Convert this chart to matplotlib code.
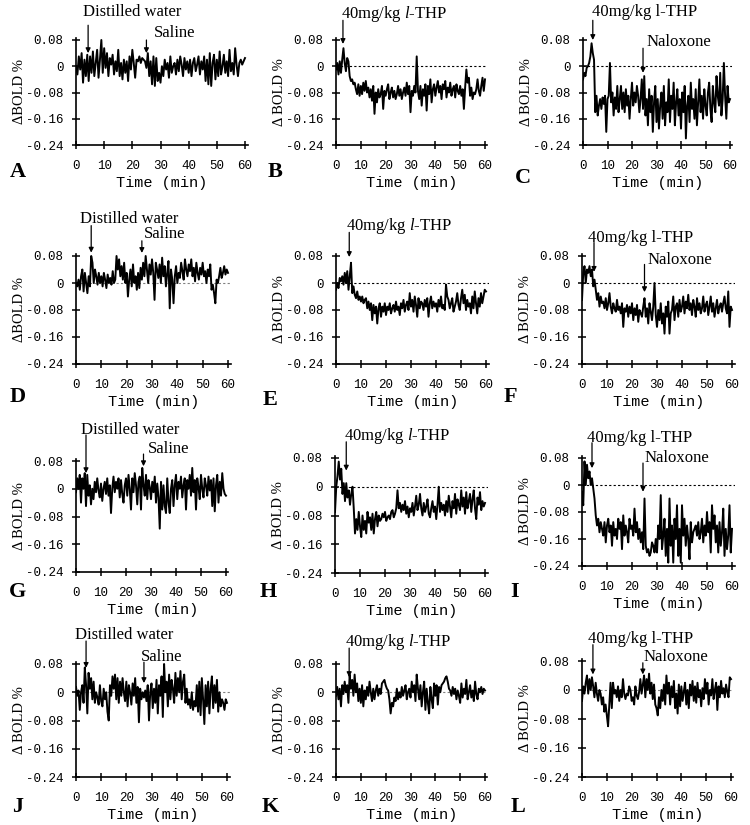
import matplotlib
matplotlib.use('Agg')
import matplotlib.pyplot as plt
import numpy as np

plt.rcParams['mathtext.fontset'] = 'custom'
plt.rcParams['mathtext.it'] = 'Liberation Serif:italic'
plt.rcParams['mathtext.rm'] = 'Liberation Serif'

# ΔBOLD values in units of 0.001 %, one value every 0.5 min (0 .. 60 min)
bold_A = [0, -25, 30, -10, 40, -50, 20, -30, 35, -45,
          30, -20, 45, -30, 10, 50, -35, 20, 80, -20,
          55, -5, 40, -30, 25, 5, 35, -25, 15, -15,
          50, -30, 10, -40, 20, -20, 15, -45, 30, -10,
          50, 10, -35, 20, 15, 30, 10, 25, 20, 15,
          -5, 40, -30, 15, -55, 30, -60, 25, -45, -20,
          -50, 0, -30, 20, -10, 10, -35, 30, -20, 0,
          10, -25, 20, -15, 30, 5, -30, 25, -10, 15,
          -20, 20, -30, 10, 25, -15, 5, 30, -25, 15,
          -10, 30, -45, 20, -55, 40, -60, 10, 35, -40,
          20, -30, 45, -25, 0, 35, -20, 15, -30, 50,
          -15, 10, -25, 55, 5, -30, 10, 20, 5, 15, 25]

bold_B = [-10, 10, -25, 15, -20, 20, 55, 10, -15, 25,
          15, -30, -45, -40, -55, -50, -70, -85, -55, -90,
          -60, -85, -50, -75, -45, -80, -65, -95, -70, -105,
          -60, -145, -80, -110, -70, -95, -85, -60, -130, -75,
          -90, -70, -55, -100, -80, -65, -95, -75, -100, -85,
          -60, -90, -70, -100, -80, -65, -90, -50, -85, -60,
          -140, -75, -90, -60, -80, 30, -75, -100, -60, -120,
          -70, -90, -55, -135, -60, -85, -40, -110, -70, -55,
          -90, -65, -45, -80, -60, -100, -55, -70, -45, -95,
          -65, -80, -50, -90, -70, -60, -95, -55, -75, -85,
          -60, -90, -70, -130, -65, -10, -50, -35, -90, -65,
          -100, -80, -85, -70, -40, -75, -90, -60, -35, -75, -40]

bold_C = [-40, -20, -30, -5, 0, 10, 30, 70, 40, 20,
          -140, -90, -150, -120, -100, -130, -95, -115, -90, -200,
          -100, -90, 10, -110, -80, -150, -95, -130, -60, -140,
          -100, -60, -130, -80, -140, -70, -120, -90, -160, -100,
          -50, -120, -80, -110, -60, -90, -140, -100, -40, -130,
          -30, -150, -100, -180, -70, -140, -90, -200, -110, -60,
          -170, -100, -190, -120, -80, -160, -60, -180, -110, -140,
          -40, -170, -90, -130, -50, -180, -110, -70, -150, -100,
          -190, -80, -140, -60, -220, -120, -90, -170, -50, -130,
          -100, -160, -70, -180, -110, -40, -140, -90, -160, -70,
          -120, -150, -80, -50, -130, -170, -60, -110, -140, -30,
          -90, -120, -20, -150, -100, 10, -90, -160, -60, -110, -100]

bold_D = [0, -10, 10, -20, 20, 40, -25, 30, 0, -30,
          20, -10, 80, 60, 0, 40, 20, -5, 30, 0,
          20, -10, 30, 10, -15, 25, 0, 15, -5, 35,
          0, 10, 80, 40, 70, 20, 50, 10, 60, 0,
          30, -40, 10, 40, -10, 55, 0, 20, -20, 30,
          -15, 45, 10, 60, 20, 80, 40, 0, 55, 25,
          70, 30, -50, 60, 40, 15, 55, 0, 75, 20,
          50, -10, 30, 65, -75, 40, 10, -60, 20, 50,
          0, 30, 15, 60, 35, 10, 70, 40, 20, 55,
          35, 70, 20, 45, 5, 60, 30, 10, 45, 25,
          60, 20, 35, 0, 40, 20, 55, -20, -5, -30,
          -60, 10, 0, 20, 45, 15, 30, 50, 25, 40, 30]

bold_E = [-20, 0, -15, 15, 5, 20, -5, 30, 0, 35,
          -20, 20, 60, -30, -10, -35, -45, -25, -50, -40,
          -55, -40, -60, -50, -45, -75, -55, -80, -60, -110,
          -65, -90, -70, -120, -75, -60, -100, -70, -85, -60,
          -95, -70, -80, -60, -90, -75, -65, -85, -55, -80,
          -70, -95, -60, -75, -50, -85, -65, -55, -80, -30,
          -70, -50, -85, -40, -65, -100, -45, -75, -55, -60,
          -80, -50, -70, -45, -100, -60, -40, -75, -55, -70,
          -60, -85, -50, -70, -40, -75, -65, -80, -5, -40,
          -50, -75, -60, -45, -85, -70, -55, -30, -65, -80,
          -45, -20, -60, -35, -80, -50, -70, -60, -90, -40,
          -75, -25, -60, -90, -45, -70, -30, -60, -40, -20, -25]

bold_F = [-50, 30, 50, 0, 40, 30, 50, 20, 40, -10,
          10, -20, -50, -30, -70, -40, -60, -55, -75, -45,
          -80, -60, -30, -70, -90, -60, -75, -85, -50, -80,
          -70, -90, -60, -130, -75, -85, -65, -100, -70, -90,
          -60, -110, -75, -95, -65, -115, -80, -90, -100, -70,
          -45, -100, -75, -120, -60, -85, -110, -70, 0, -95,
          -130, -80, -110, -60, -120, -90, -150, -70, -100, -55,
          -150, -90, -80, -40, -110, -70, -60, -100, -50, -85,
          -70, -40, -90, -55, -75, -35, -80, -60, -95, -50,
          -70, -100, -45, -80, -60, -90, -75, -40, -85, -65,
          -55, -95, -70, -40, -85, -60, -100, -75, -50, -90,
          -70, -60, -85, -60, -40, -75, -90, -25, -130, -70, -80]

bold_G = [-10, 30, 0, 40, -40, 30, 0, 45, -50, 40,
          -20, 10, -45, 0, -30, 20, -10, 30, -5, -25,
          15, -35, 0, 20, -15, 30, -20, 10, -70, 0,
          35, -10, 20, 0, 30, -25, 25, -15, -40, 10,
          30, -20, 40, 0, -60, 30, -10, 45, 10, -45,
          20, 35, -60, 60, 10, -20, 40, -30, 25, 5,
          -30, 20, -10, 35, -40, 15, -25, -115, 20, -60,
          10, -50, -70, 30, -40, -70, 0, 25, -50, 10,
          40, -30, 20, 0, 35, -25, 10, 30, -60, 25,
          0, 40, -20, 60, -10, 25, -60, 30, 5, -30,
          40, 0, -25, 30, 10, -20, 35, -5, 25, -50,
          30, -65, 10, 40, -40, 20, -20, 45, 0, -15, -20]

bold_H = [-70, 0, 30, 70, 20, 50, -20, 10, -40, 10,
          -30, -10, -50, -20, 0, -60, -130, -90, -120, -70,
          -110, -140, -80, -120, -95, -130, -70, -100, -85, -120,
          -75, -130, -90, -70, -110, -80, -95, -90, -75, -85,
          -70, -95, -85, -80, -90, -70, -65, -85, -75, -60,
          -10, -60, -45, -70, -50, -65, -40, -75, -55, -85,
          -60, -70, -45, -80, -55, -25, -65, -50, -20, -60,
          -80, -45, -70, -55, -35, -75, -85, -60, -40, -70,
          -55, -90, -50, 0, -70, -45, -65, -50, -80, -40,
          -70, -25, -55, -85, -40, -60, -20, -75, -35, -50,
          -65, -10, -55, -30, -75, -15, -60, -40, -20, -70,
          -35, -10, -60, -90, -30, -50, -15, -65, -40, -55, -45]

bold_I = [-20, -60, 70, 0, 60, 20, 40, 0, 20, -10,
          -40, -90, -120, -100, -140, -110, -130, -150, -110, -170,
          -120, -100, -140, -120, -180, -110, -150, -130, -160, -100,
          -130, -110, -190, -90, -150, -120, -140, -170, -100, -130,
          -120, -150, -70, -140, -110, -160, -130, -170, -140, -190,
          -40, -180, -200, -190, -210, -200, -170, -180, -200, -160,
          -200, -120, -160, -30, -190, -150, -100, -210, -130, -230,
          -40, -180, -120, -230, -100, -160, -60, -210, -130, -230,
          -60, -150, -100, -180, -120, -160, -220, -110, -170, -140,
          -130, -120, -150, -110, -160, -140, -100, -170, -120, -150,
          -80, -140, -110, -200, -60, -130, -90, -170, -120, -200,
          -110, -180, -140, -70, -210, -130, -190, -150, -60, -200, -130]

bold_J = [15, -10, 5, -50, 0, 20, -30, 70, 20, -60,
          55, 10, 40, -20, 30, -30, 0, -15, -35, 20,
          -25, -40, 10, -20, 0, -55, -80, 20, -10, 45,
          10, 50, -20, 40, -30, 30, -10, 40, 0, -25,
          30, -40, 20, 0, -35, 25, -10, 40, -30, 15,
          -85, 10, -20, 0, -15, 5, -25, 20, -80, 0,
          25, -45, 10, -30, 35, -60, 20, -10, 45, -70,
          80, 0, 30, -40, 50, -20, 35, 10, -30, 55,
          -10, 40, 0, 60, -20, 30, 50, -30, 10, -35,
          -20, -45, 0, -50, -25, -40, 20, -55, 30, -65,
          40, -20, -90, 20, -40, 30, -60, 10, 45, -45,
          20, -30, 35, -55, 0, -40, -20, -30, -50, -20, -30]

bold_K = [-10, 15, -20, 10, -40, 20, -5, 30, 0, 20,
          -30, 50, 10, 35, -10, 50, 0, 25, -25, 10,
          -30, 20, -40, 5, -20, 15, -10, 30, 0, -25,
          10, -20, 5, 20, -10, 10, -5, 25, 30, 35,
          20, 10, 5, -20, -60, -30, -40, -15, -25, 10,
          -20, 0, -15, 15, -10, 5, 20, -20, 0, 10,
          -15, 30, 0, 20, -25, 50, 10, -20, 20, -40,
          0, 30, -50, 10, -30, -60, 15, -20, -45, 25,
          -10, 20, -35, 15, 0, 20, 25, 30, 40, 45,
          30, 10, 5, -10, 15, -5, 10, -20, 5, -10,
          -30, 25, -15, 10, -5, 35, -20, 0, 20, -15,
          5, -25, 30, -5, -20, 10, 0, 15, -5, 10, 5]

bold_L = [-30, 10, -10, 20, 40, -10, 30, 0, 35, 10,
          -20, 20, -10, -30, 0, -10, -40, -20, -60, -40,
          -70, -100, -40, 20, -50, 20, -10, 0, -20, 10,
          -30, 0, -20, 30, -10, -25, -10, -15, 10, 0,
          -30, -20, -40, 10, -15, -25, -5, 30, -10, 15,
          40, -20, 30, 0, 45, -10, 20, -25, 15, -40,
          -50, -70, -20, -50, 0, -30, 15, -40, 40, -10,
          20, -40, 10, -20, 25, -50, -10, -65, 15, -45,
          10, -30, -5, 20, -40, 0, -50, 15, -15, 25,
          -30, 10, -35, 20, -20, 0, -45, 5, -25, 30,
          -10, 20, -40, 0, -15, 30, -25, 0, 20, -55,
          10, -20, 25, -10, 5, -20, 15, -5, -20, 35, 30]

yticks = [0.08, 0, -0.08, -0.16, -0.24]
ytick_labels = ['0.08', '0', '-0.08', '-0.16', '-0.24']
xticks = [0, 10, 20, 30, 40, 50, 60]

THP_IT = r'40mg/kg $\mathit{l}$-THP'
THP_UP = '40mg/kg l-THP'

# letter, data, ylabel, (left px, x=60 px, y=0.08 px, y=-0.24 px), letter pos px, zero line colour
panels = [
    ('A', bold_A, 'ΔBOLD %', (76, 245, 40, 145), (18, 172), None),
    ('B', bold_B, 'Δ BOLD %', (336, 485, 40, 145), (275, 172), 'k'),
    ('C', bold_C, 'Δ BOLD %', (583, 730, 40, 145), (523, 178), 'k'),
    ('D', bold_D, 'ΔBOLD %', (76, 228, 256, 364), (18, 397), '0.5'),
    ('E', bold_E, 'Δ BOLD %', (336, 486, 256, 364), (270, 400), 'k'),
    ('F', bold_F, 'Δ BOLD %', (582, 732, 256, 364), (510, 397), 'k'),
    ('G', bold_G, 'Δ BOLD %', (76, 226, 461, 572), (18, 592), None),
    ('H', bold_H, 'Δ BOLD %', (335, 485, 458, 573), (268, 592), 'k'),
    ('I', bold_I, 'Δ BOLD %', (582, 732, 458, 566), (515, 592), 'k'),
    ('J', bold_J, 'Δ BOLD %', (76, 227, 664, 777), (18, 807), '0.5'),
    ('K', bold_K, 'Δ BOLD %', (336, 485, 664, 777), (270, 807), '0.5'),
    ('L', bold_L, 'Δ BOLD %', (582, 731, 661, 777), (518, 807), '0.5'),
]

# label, text x, text y, arrow x, arrow tail y, arrow tip y (data coords)
notes = {
    'A': [('Distilled water', 20, 0.165, 4.3, 0.125, 0.04), ('Saline', 35, 0.10, 25, 0.08, 0.04)],
    'B': [(THP_IT, 23.5, 0.158, 2.8, 0.14, 0.068)],
    'C': [(THP_UP, 25, 0.164, 4, 0.14, 0.08), ('Naloxone', 39, 0.074, 24.5, 0.055, -0.02)],
    'D': [('Distilled water', 21, 0.19, 6, 0.17, 0.09), ('Saline', 35, 0.145, 26, 0.125, 0.089)],
    'E': [(THP_IT, 25.3, 0.17, 5.3, 0.15, 0.077)],
    'F': [(THP_UP, 23.6, 0.133, 4.8, 0.12, 0.033), ('Naloxone', 39, 0.068, 25, 0.055, -0.027)],
    'G': [('Distilled water', 21.5, 0.17, 4, 0.155, 0.045), ('Saline', 37, 0.115, 27, 0.1, 0.065)],
    'H': [(THP_IT, 25, 0.14, 4.5, 0.125, 0.045)],
    'I': [(THP_UP, 23, 0.14, 4, 0.125, 0.05), ('Naloxone', 38, 0.08, 24.4, 0.065, -0.02)],
    'J': [('Distilled water', 19, 0.162, 4, 0.145, 0.069), ('Saline', 34, 0.10, 27, 0.085, 0.026)],
    'K': [(THP_IT, 25, 0.142, 5.3, 0.125, 0.043)],
    'L': [(THP_UP, 23.5, 0.142, 4.4, 0.125, 0.043), ('Naloxone', 38, 0.09, 24.5, 0.075, 0.043)],
}

W, H = 750, 825
YTOP = 0.085
XMAX = 61

fig = plt.figure(figsize=(W / 100, H / 100), dpi=100)

for letter, vals, ylab, (x0, x60, y08, ybot), (lx, ly), zc in panels:
    px_per_min = (x60 - x0) / 60
    px_per_unit = (ybot - y08) / 0.32
    width = px_per_min * XMAX
    top = y08 - (YTOP - 0.08) * px_per_unit
    ax = fig.add_axes([x0 / W, 1 - ybot / H, width / W, (ybot - top) / H])

    v = np.array(vals) / 1000.0
    t = np.linspace(0, 60, len(v))
    if zc is not None:
        ax.axhline(0, color=zc, lw=0.8, ls=(0, (2, 2)), zorder=1)
    ax.plot(t, v, color='k', lw=1.4, zorder=2)

    ax.set_xlim(0, XMAX)
    ax.set_ylim(-0.24, YTOP)
    ax.spines['top'].set_visible(False)
    ax.spines['right'].set_visible(False)
    for s in ('left', 'bottom'):
        ax.spines[s].set_linewidth(1.2)
    ax.set_xticks(xticks)
    ax.set_xticklabels([str(x) for x in xticks], fontfamily='Liberation Mono', fontsize=9)
    ax.set_yticks(yticks)
    ax.set_yticklabels(ytick_labels, fontfamily='Liberation Mono', fontsize=9)
    ax.tick_params(direction='inout', length=6, width=1.1)
    ax.tick_params(axis='x', pad=8)
    ax.tick_params(axis='y', pad=6)
    ax.set_xlabel('Time (min)', fontfamily='Liberation Mono', fontsize=11, labelpad=3)
    ax.set_ylabel(ylab, fontfamily='Liberation Serif', fontsize=10.5, labelpad=0)

    for label, tx, ty, axx, y0, y1 in notes[letter]:
        ax.text(tx, ty, label, ha='center', va='center', fontfamily='Liberation Serif',
                fontsize=12, clip_on=False)
        ax.annotate('', xy=(axx, y1), xytext=(axx, y0), annotation_clip=False,
                    arrowprops=dict(arrowstyle='-|>', color='k', lw=0.9,
                                    mutation_scale=7, shrinkA=0, shrinkB=0))

    fig.text(lx / W, 1 - ly / H, letter, ha='center', va='center',
             fontfamily='Liberation Serif', fontweight='bold', fontsize=16)

fig.savefig('out.png', dpi=100)
